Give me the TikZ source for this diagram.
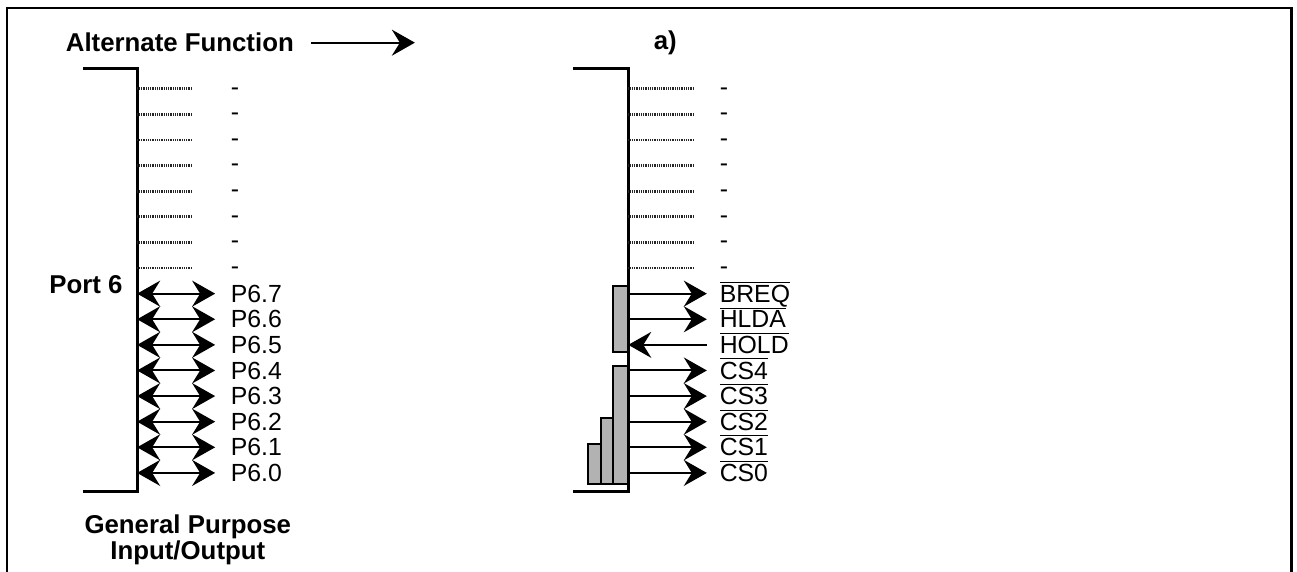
\documentclass[tikz,border=0pt]{standalone}
\usepackage{fontspec}
\setmainfont{Liberation Sans}
\usetikzlibrary{arrows.meta, positioning}
\tikzset{
	pinlabel/.style={anchor=base west, inner sep=0pt, font=\fontsize{12.4}{13}\selectfont}
}
\tikzset{
	boldtext/.style={inner sep=0pt, font=\fontsize{12.9}{10}\selectfont\bfseries}
}
\tikzset{
	bar/.style={line width=1.6pt},
	spare/.style={line width=1.4pt, dash pattern=on 0.5pt off 0.4pt, black!85},
	sigout/.style={line width=1pt, -{Stealth[length=11.5pt,width=13pt,inset=4pt]}},
	sigin/.style={line width=1pt, {Stealth[length=11.5pt,width=13pt,inset=4pt]}-},
	sigbi/.style={line width=1pt, {Stealth[length=11.5pt,width=13pt,inset=4pt]}-{Stealth[length=11.5pt,width=13pt,inset=4pt]}},
	csbox/.style={draw, line width=1pt, fill=black!30}
}
\newcommand{\ovl}[1]{$\overline{\mbox{#1}}$}

\begin{document}
\begin{tikzpicture}
      \useasboundingbox (0,0) rectangle (22.79,10.05);
      % frame, open at the bottom
      \draw[line width=1.2pt] (0.12,0) -- (0.12,9.91) -- (22.69,9.91) -- (22.69,0);
      % titles
      \node[boldtext] (altfn) at (3.16,9.30) {Alternate Function};
      \coordinate (altend) at (7.29,9.30);
      \draw[sigout] ([xshift=0.3cm]altfn.east) -- (altend);
      \node[boldtext] (afa) at (11.69,9.30) {a)};
      \node[boldtext, anchor=east] (port) at (2.16,5.05) {Port 6};
      \node[boldtext, align=center] (gpio) at (3.30,0.57) {General Purpose\\Input/Output};
      % grey boxes behind the bracket
      \draw[csbox] (10.77,5.03) rectangle (11.04,3.87);
      \draw[csbox] (10.77,3.62) rectangle (11.04,1.55);
      \draw[csbox] (10.56,2.71) rectangle (10.77,1.55);
      \draw[csbox] (10.33,2.25) rectangle (10.56,1.55);
      % brackets
      \draw[bar] (1.46,8.84) -- (2.41,8.84) -- (2.41,1.42) -- (1.46,1.42);
      \draw[bar] (10.07,8.84) -- (11.04,8.84) -- (11.04,1.42) -- (10.07,1.42);
      % unused upper rows
      \foreach \k in {0,...,7} {
        \coordinate (gpa\k) at (2.41,8.49-0.45*\k);
        \coordinate (gpb\k) at (3.37,8.49-0.45*\k);
        \coordinate (afa\k) at (11.04,8.49-0.45*\k);
        \coordinate (afb\k) at (12.21,8.49-0.45*\k);
        \draw[spare] (gpa\k) -- (gpb\k);
        \draw[spare] (afa\k) -- (afb\k);
        \node[pinlabel] (gpd\k) at (4.05,8.38-0.45*\k) {-};
        \node[pinlabel] (afd\k) at (12.64,8.38-0.45*\k) {-};
      }
      % port pins
      \foreach \b [count=\k from 8] in {7,6,5,4,3,2,1,0} {
        \coordinate (gpa\k) at (2.41,8.49-0.45*\k);
        \coordinate (gpb\k) at (3.78,8.49-0.45*\k);
        \draw[sigbi] (gpa\k) -- (gpb\k);
        \node[pinlabel] (gpp\k) at (4.05,8.34-0.45*\k) {P6.\b};
      }
      % alternate functions
      \foreach \sig/\dir [count=\k from 8] in {BREQ/sigout, HLDA/sigout, HOLD/sigin, CS4/sigout,
          CS3/sigout, CS2/sigout, CS1/sigout, CS0/sigout} {
        \coordinate (afa\k) at (11.04,8.49-0.45*\k);
        \coordinate (afb\k) at (12.42,8.49-0.45*\k);
        \draw[\dir] (afa\k) -- (afb\k);
        \node[pinlabel] (afp\k) at (12.64,8.34-0.45*\k) {\ovl{\sig}};
      }
    \end{tikzpicture}
\end{document}
